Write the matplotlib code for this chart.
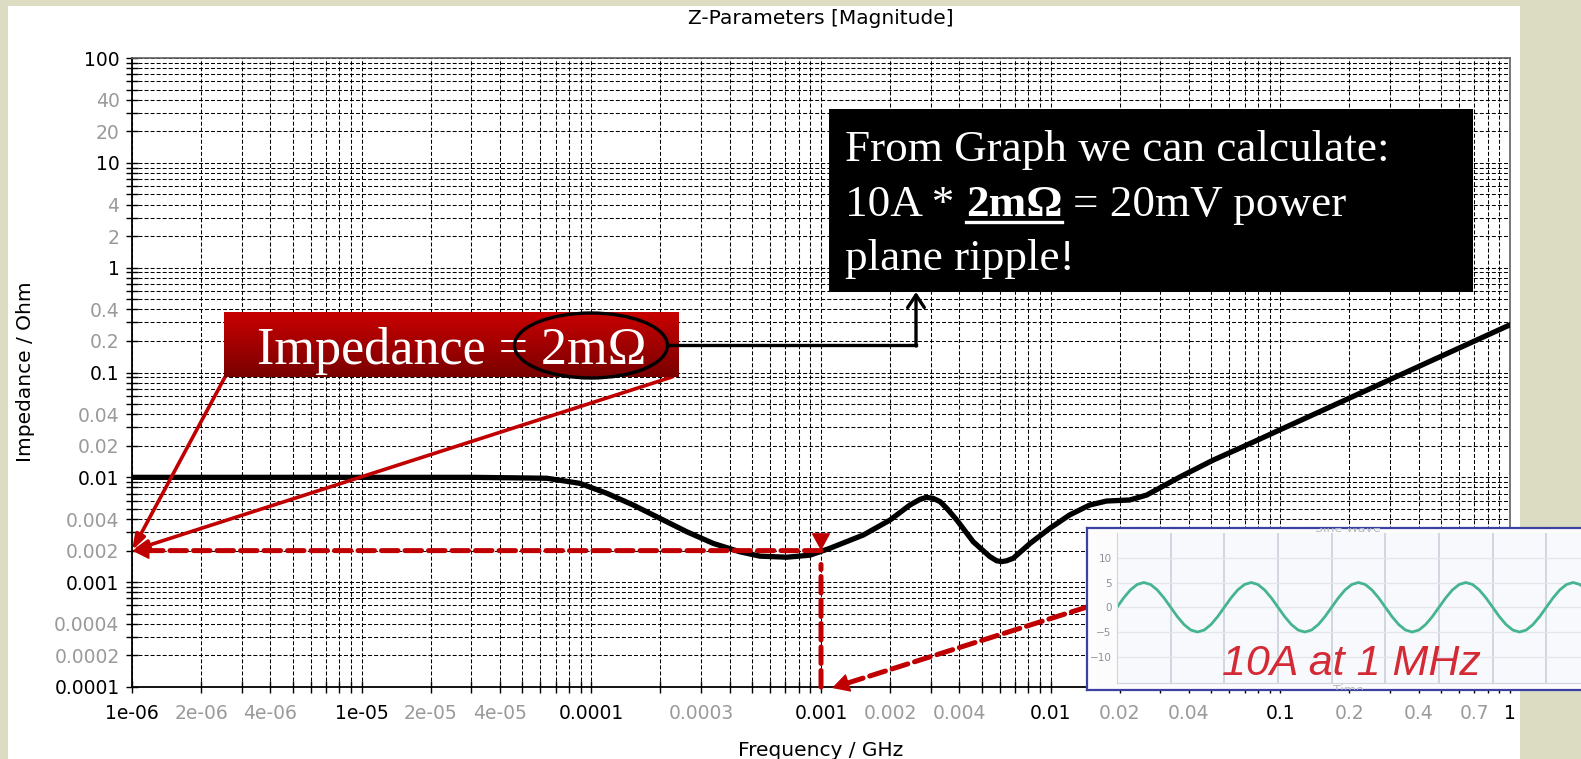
import numpy as np
import matplotlib
matplotlib.use("Agg")
import matplotlib.pyplot as plt
from matplotlib.patches import Rectangle, Ellipse, FancyArrowPatch
from matplotlib.lines import Line2D
from matplotlib.transforms import Affine2D
from matplotlib.ticker import LogLocator, NullFormatter
from matplotlib.colors import LinearSegmentedColormap

W, H = 1581, 759

# impedance magnitude (GHz, Ohm)
freq = [1e-6, 1e-5, 3e-5, 4.5e-5, 6.4e-5, 8.9e-5, 1.17e-4, 1.52e-4, 1.99e-4,
        2.6e-4, 3.4e-4, 4.43e-4, 5.43e-4, 7.1e-4, 8.96e-4, 1.09e-3, 1.53e-3,
        2.0e-3, 2.44e-3, 2.7e-3, 2.88e-3, 3.08e-3, 3.3e-3, 3.53e-3, 3.9e-3,
        4.6e-3, 5.44e-3, 5.82e-3, 6.12e-3, 6.43e-3, 6.87e-3, 8.13e-3, 9.93e-3,
        1.21e-2, 1.48e-2, 1.75e-2, 2.21e-2, 2.62e-2, 3.66e-2, 5.1e-2, 7.13e-2,
        0.1, 0.3, 1.0]
zmag = [0.01, 0.01, 0.01, 0.0099, 0.0098, 0.00877, 0.00703, 0.00545, 0.00406,
        0.00303, 0.00234, 0.00195, 0.00177, 0.00173, 0.00181, 0.0021, 0.00282,
        0.00392, 0.00545, 0.00617, 0.00644, 0.0063, 0.00586, 0.00506, 0.00392,
        0.00243, 0.00175, 0.0016, 0.00157, 0.0016, 0.00169, 0.00234, 0.00327,
        0.00438, 0.00545, 0.00594, 0.00608, 0.00678, 0.0101, 0.0146, 0.0203,
        0.0285, 0.0855, 0.285]

x_ticks = [1e-6, 2e-6, 4e-6, 1e-5, 2e-5, 4e-5, 1e-4, 3e-4, 1e-3, 2e-3, 4e-3,
           1e-2, 2e-2, 4e-2, 0.1, 0.2, 0.4, 0.7, 1]
x_labels = ["1e-06", "2e-06", "4e-06", "1e-05", "2e-05", "4e-05", "0.0001",
            "0.0003", "0.001", "0.002", "0.004", "0.01", "0.02", "0.04", "0.1",
            "0.2", "0.4", "0.7", "1"]
y_ticks = [1e-4, 2e-4, 4e-4, 1e-3, 2e-3, 4e-3, 1e-2, 2e-2, 4e-2, 0.1, 0.2, 0.4,
           1, 2, 4, 10, 20, 40, 100]
y_labels = ["0.0001", "0.0002", "0.0004", "0.001", "0.002", "0.004", "0.01",
            "0.02", "0.04", "0.1", "0.2", "0.4", "1", "2", "4", "10", "20", "40",
            "100"]
decade_labels = ["1e-06", "1e-05", "0.0001", "0.001", "0.01", "0.1", "1", "10", "100"]

# working point marked on the chart
mark_f = 1e-3
mark_z = 0.002

# one cycle of the 10 A sine in the inset (A), 16 samples per period
wave_cycle = [0, 1.9, 3.5, 4.6, 5, 4.6, 3.5, 1.9, 0, -1.9, -3.5, -4.6, -5, -4.6, -3.5, -1.9]
n_cycles = 4.2

RED = '#c00000'
GRAY = '#9a9a9a'

fig = plt.figure(figsize=(W / 100, H / 100), dpi=100, facecolor='#dcdcc2')
# pixel coordinates, origin top-left
tpx = Affine2D().scale(1 / W, -1 / H).translate(0, 1) + fig.transFigure

fig.add_artist(Rectangle((8, 6), 1512, 760, transform=tpx, facecolor='white',
                         edgecolor='none', zorder=-5))

ax = fig.add_axes([132 / W, 1 - 687 / H, (1510 - 132) / W, (687 - 58) / H])
ax.set_xscale('log')
ax.set_yscale('log')
ax.set_xlim(1e-6, 1)
ax.set_ylim(1e-4, 100)
ax.plot(freq, zmag, color='black', lw=3.8, solid_joinstyle='round', zorder=3)

ax.set_xticks(x_ticks, x_labels)
ax.set_yticks(y_ticks, y_labels)
for axis in (ax.xaxis, ax.yaxis):
    axis.set_minor_locator(LogLocator(base=10, subs=np.arange(2, 10)))
    axis.set_minor_formatter(NullFormatter())
for lab in ax.get_xticklabels() + ax.get_yticklabels():
    lab.set_color('black' if lab.get_text() in decade_labels else GRAY)
ax.tick_params(which='both', direction='inout', length=8, width=1, color='black')
ax.tick_params(axis='x', labelsize=13.5, pad=8)
ax.tick_params(axis='y', labelsize=13.5, pad=5)
ax.grid(which='both', color='black', linestyle=(0, (3.8, 2)), lw=0.75)
ax.set_axisbelow(True)
for s in ('left', 'bottom'):
    ax.spines[s].set_color('black')
    ax.spines[s].set_linewidth(1.3)
for s in ('top', 'right'):
    ax.spines[s].set_color('#606060')
    ax.spines[s].set_linewidth(1.2)

fig.text(821, 18, "Z-Parameters [Magnitude]", transform=tpx, ha='center',
         va='center', fontsize=14.5)
fig.text(821, 750, "Frequency / GHz", transform=tpx, ha='center', va='center',
         fontsize=14.5)
fig.text(26, 372, "Impedance / Ohm", transform=tpx, ha='center', va='center',
         rotation=90, fontsize=14.5)

# red dashed guides at the working point
dash = (0, (3.3, 1.4))
ax.annotate('', xy=(ax.get_xlim()[0], mark_z), xytext=(mark_f, mark_z),
            arrowprops=dict(arrowstyle='-', color=RED, lw=3.6, linestyle=dash,
                            shrinkA=0, shrinkB=10), zorder=4)
ax.annotate('', xy=(ax.get_xlim()[0], mark_z), xytext=(12, 0), textcoords='offset points',
            arrowprops=dict(arrowstyle='-|>,head_length=1.1,head_width=0.55',
                            color=RED, lw=1, shrinkA=0, shrinkB=0), zorder=4)
ax.annotate('', xy=(mark_f, mark_z), xytext=(mark_f, ax.get_ylim()[0]),
            arrowprops=dict(arrowstyle='-', color=RED, lw=3.6, linestyle=dash,
                            shrinkA=0, shrinkB=10), zorder=4)
ax.annotate('', xy=(mark_f, mark_z), xytext=(0, 12), textcoords='offset points',
            arrowprops=dict(arrowstyle='-|>,head_length=1.1,head_width=0.6',
                            color=RED, lw=1, shrinkA=0, shrinkB=0), zorder=4)
# dashed arrow from the inset to 1 MHz
ax.annotate('', xy=(832, 688), xycoords=tpx, xytext=(1087, 607), textcoords=tpx,
            arrowprops=dict(arrowstyle='-', color=RED, lw=3.6, linestyle=dash,
                            shrinkA=0, shrinkB=10), zorder=4, annotation_clip=False)
ax.annotate('', xy=(832, 688), xycoords=tpx, xytext=(11.4, 3.6), textcoords='offset points',
            arrowprops=dict(arrowstyle='-|>,head_length=1.1,head_width=0.6',
                            color=RED, lw=1, shrinkA=0, shrinkB=0), zorder=4,
            annotation_clip=False)

# solid red lines from the label box to 2 mOhm
for corner in [(225, 377), (672, 377)]:
    ax.annotate('', xy=(ax.get_xlim()[0], mark_z), xytext=corner, textcoords=tpx,
                arrowprops=dict(arrowstyle='-|>,head_length=0.9,head_width=0.3',
                                color=RED, lw=2.6, shrinkA=0, shrinkB=0),
                zorder=5, annotation_clip=False)

# red gradient label box
gax = fig.add_axes([224 / W, 1 - 377 / H, (679 - 224) / W, (377 - 312) / H])
grad = np.linspace(0, 1, 64).reshape(-1, 1)
gax.imshow(grad, aspect='auto', cmap=LinearSegmentedColormap.from_list('rb', ['#c80000', '#7a0000']))
gax.axis('off')
fig.text(452, 364, "Impedance = 2m\u03a9", transform=tpx, ha='center', va='baseline',
         color='white', fontsize=37.5, family='Liberation Serif')
fig.add_artist(Ellipse((591, 345.5), 153, 65, transform=tpx, facecolor='none',
                       edgecolor='black', lw=2.4, zorder=4))
fig.add_artist(Line2D([668, 916], [345, 345], transform=tpx, color='black', lw=2.4))
fig.add_artist(FancyArrowPatch((916, 346), (916, 292), transform=tpx,
                               arrowstyle='->,head_length=0.45,head_width=0.3',
                               mutation_scale=20, color='black', lw=2.4,
                               shrinkA=0, shrinkB=0))

# black calculation box
fig.add_artist(Rectangle((829, 109), 644, 183, transform=tpx, facecolor='black',
                         edgecolor='none', zorder=1))
serif = dict(transform=tpx, va='baseline', color='white', fontsize=32.5,
             family='Liberation Serif')
fig.text(845, 161, "From Graph we can calculate:", **serif)
fig.text(845, 270, "plane ripple!", **serif)
r = fig.canvas.get_renderer()
space = 0.25 * 32.5 * 100 / 72
t1 = fig.text(845, 216, "10A *", **serif)
x2 = 845 + t1.get_window_extent(r).width + space
t2 = fig.text(x2, 216, "2m\u03a9", fontweight='bold', **serif)
w2 = t2.get_window_extent(r).width
fig.add_artist(Line2D([x2, x2 + w2], [222, 222], transform=tpx, color='white', lw=2.4))
fig.text(x2 + w2 + space, 216, "= 20mV power", **serif)

# inset with the sine wave screenshot
fax = fig.add_axes([1087 / W, 1 - 690 / H, (1600 - 1087) / W, (690 - 528) / H])
fax.set_facecolor('#fcfcfd')
fax.set_xticks([])
fax.set_yticks([])
for s in fax.spines.values():
    s.set_color('#3c40a0')
    s.set_linewidth(1.6)
fax.text(0.509, 1.0, "Sine Wave", transform=fax.transAxes, ha='center', va='center',
         fontsize=9, color='#b5b9c0', clip_on=True)
fax.text(0.509, 0.0, "Time", transform=fax.transAxes, ha='center', va='center',
         fontsize=9, color='#b5b9c0', clip_on=True)

wave = np.append(np.tile(wave_cycle, 5), 0)
t = np.arange(len(wave)) / len(wave_cycle)
wax = fig.add_axes([1117 / W, 1 - 683 / H, (1600 - 1117) / W, (683 - 533) / H])
wax.set_facecolor('#f7f9fc')
wax.plot(t, wave, color='#45b48f', lw=2)
wax.set_xlim(0, n_cycles)
wax.set_ylim(-15.3, 15)
wax.set_yticks([-10, -5, 0, 5, 10])
wax.set_xticks(np.arange(0, 5, 0.5))
wax.set_xticklabels([])
wax.tick_params(length=0, labelsize=7.5, labelcolor='#8a8f98', pad=4)
wax.grid(axis='x', color='#cdd4df', lw=1.3)
wax.grid(axis='y', color='#e3e7ed', lw=1)
for s in ('top', 'right'):
    wax.spines[s].set_visible(False)
for s in ('left', 'bottom'):
    wax.spines[s].set_color('#cfd5de')

fig.text(1222, 675, "10A at 1 MHz", transform=tpx, va='baseline', color='#d42a35',
         fontsize=31, style='italic', family='Liberation Sans')

fig.savefig("out.png", dpi=100, facecolor=fig.get_facecolor())
